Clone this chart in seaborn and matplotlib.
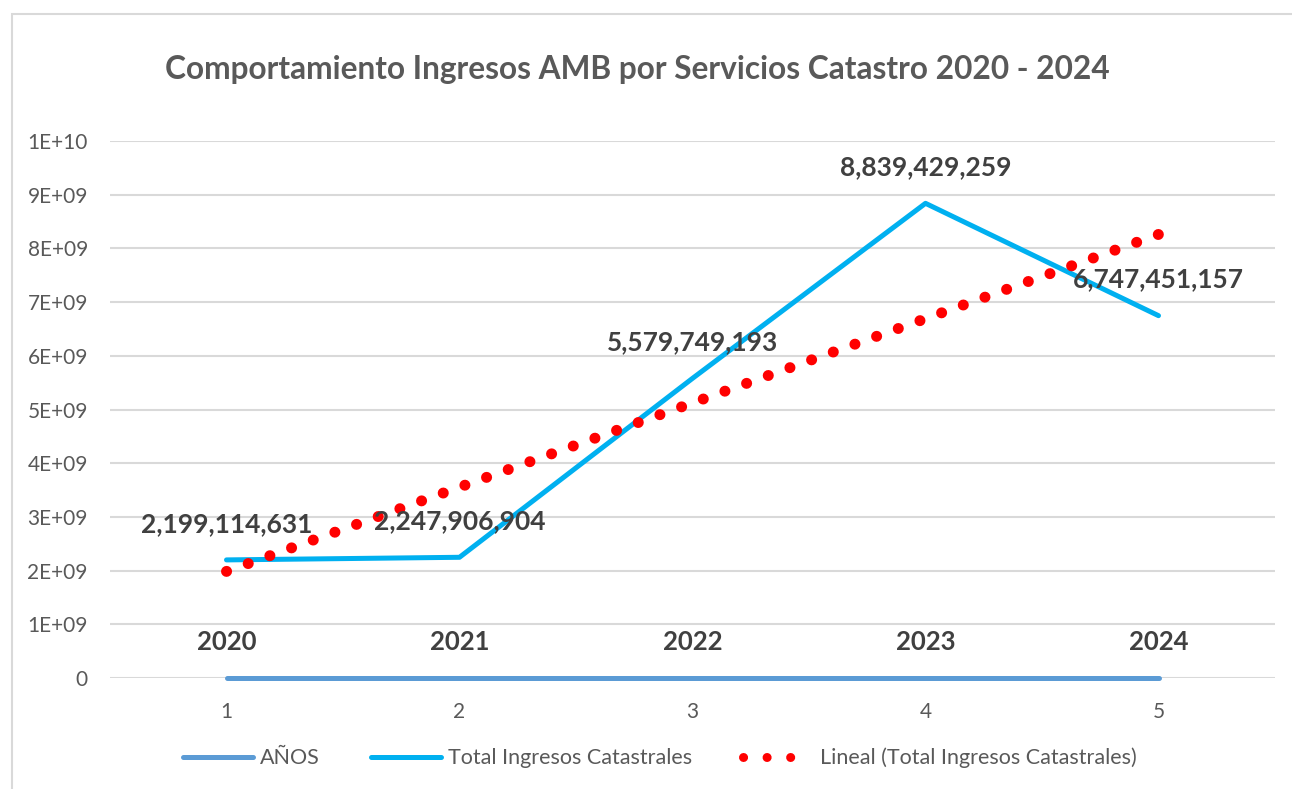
import numpy as np
import pandas as pd
import matplotlib
matplotlib.use('Agg')
import matplotlib.pyplot as plt
from matplotlib.lines import Line2D
from matplotlib.patches import Rectangle
from matplotlib.ticker import FuncFormatter
import seaborn as sns

# data
posicion = [1, 2, 3, 4, 5]
anios = [2020, 2021, 2022, 2023, 2024]
total_ingresos = [2199114631, 2247906904, 5579749193, 8839429259, 6747451157]

df = pd.DataFrame({'pos': posicion, 'anio': anios, 'total': total_ingresos})

sns.set_style('white')
plt.rcParams['font.family'] = ['Lato', 'DejaVu Sans']

gris = '#595959'
gris_oscuro = '#404040'
azul_anios = '#5B9BD5'
azul_total = '#00B0F0'

fig = plt.figure(figsize=(12.92, 7.89), dpi=100)
ax = fig.add_axes([110/1292, 1-678/789, (1275-110)/1292, (678-141)/789])

# outer chart frame (Excel style)
fig.patches.append(Rectangle((12/1292, -0.1), 1.2, 1.1 - 14/789, transform=fig.transFigure,
                             fill=False, edgecolor='#D9D9D9', linewidth=1.5, zorder=0))

sns.lineplot(data=df, x='pos', y='anio', ax=ax, color=azul_anios, linewidth=3.6,
             solid_capstyle='round', zorder=3, clip_on=False)
sns.lineplot(data=df, x='pos', y='total', ax=ax, color=azul_total, linewidth=3.6,
             solid_capstyle='round', zorder=4)
# linear trendline, like Excel's "Lineal"
sns.regplot(data=df, x='pos', y='total', ax=ax, scatter=False, ci=None, truncate=True,
            color='#FF0000',
            line_kws={'linestyle': (0, (0.01, 2.09)), 'linewidth': 7.9,
                      'dash_capstyle': 'round', 'zorder': 5})

# data labels
for p, a in zip(posicion, anios):
    ax.annotate(str(a), (p, a), xytext=(0, 26), textcoords='offset points',
                ha='center', va='center', fontsize=18.5, fontweight='bold',
                color=gris_oscuro, zorder=6)
for p, t in zip(posicion, total_ingresos):
    ax.annotate(f'{t:,}', (p, t), xytext=(0, 26), textcoords='offset points',
                ha='center', va='center', fontsize=19, fontweight='bold',
                color=gris_oscuro, zorder=6)

ax.set_xlim(0.5, 5.5)
ax.set_ylim(0, 1e10)
ax.set_xticks(posicion)
ax.set_yticks(np.arange(0, 1.01e10, 1e9))
ax.yaxis.set_major_formatter(FuncFormatter(lambda v, _: '0' if v == 0 else f'{v:.0E}'))
ax.tick_params(axis='both', length=0, labelsize=15, labelcolor=gris)
ax.tick_params(axis='y', pad=16)
ax.tick_params(axis='x', pad=17)
ax.grid(axis='y', color='#D9D9D9', linewidth=1.5)
ax.set_axisbelow(True)
for s in ax.spines.values():
    s.set_visible(False)
ax.set_xlabel('')
ax.set_ylabel('')

fig.text(637/1292, 1-70/789, 'Comportamiento Ingresos AMB por Servicios Catastro 2020 - 2024',
         ha='center', va='center', fontsize=22.8, fontweight='bold', color=gris)

handles = [
    Line2D([], [], color=azul_anios, linewidth=3.6, solid_capstyle='round'),
    Line2D([], [], color=azul_total, linewidth=3.6, solid_capstyle='round'),
    Line2D([], [], color='#FF0000', linewidth=6.5, linestyle=(0, (0.01, 2.6)), dash_capstyle='round'),
]
labels = ['AÑOS', 'Total Ingresos Catastrales', 'Lineal (Total Ingresos Catastrales)']
fig.legend(handles, labels, loc='center', bbox_to_anchor=(660/1292, 1-758/789), ncol=3,
           frameon=False, fontsize=15.5, labelcolor=gris, handlelength=3.25,
           handletextpad=0.3, columnspacing=2.4)

fig.savefig('out.png', dpi=100)
